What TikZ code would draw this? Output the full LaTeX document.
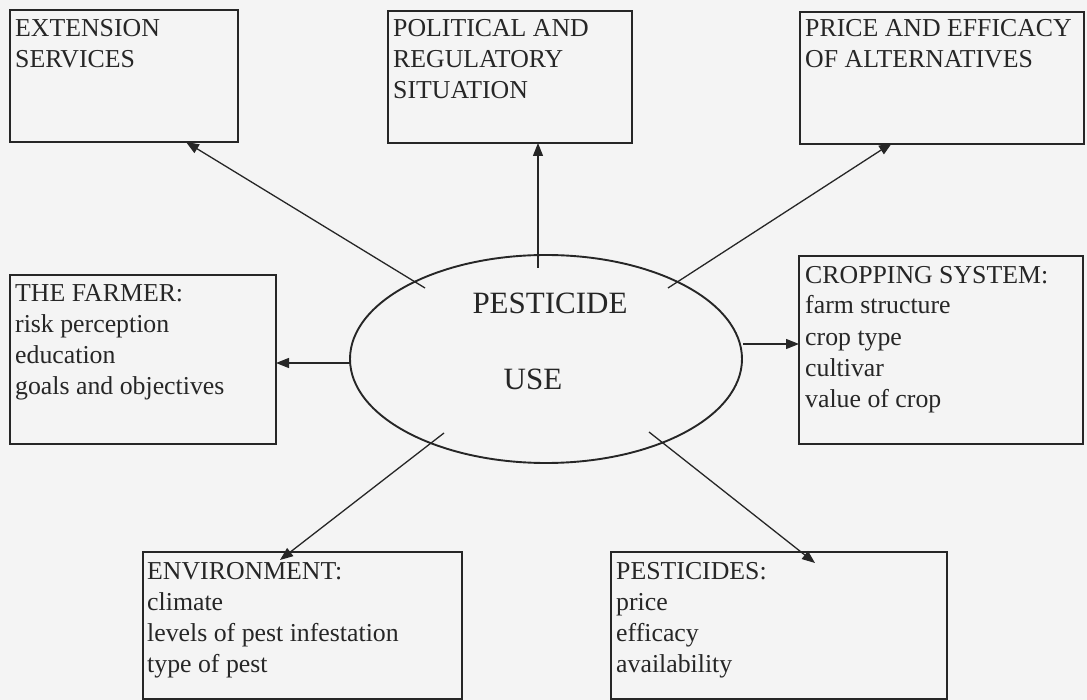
\documentclass[tikz,border=0pt]{standalone}
\usepackage{fontspec}
\setmainfont{Liberation Serif}
\usetikzlibrary{arrows.meta,shapes.geometric}
\definecolor{paper}{RGB}{244,244,244}
\definecolor{ink}{RGB}{38,38,38}
\begin{document}
\begin{tikzpicture}[x=1pt,y=-1pt,
  box/.style={draw=ink, line width=2.2pt, rectangle, inner sep=0pt},
  % multi-line texts are placed by the baseline of their last line
  txt/.style={anchor=base west, inner sep=0pt, align=left, text=ink,
              font=\fontsize{25.8}{31}\selectfont},
  big/.style={anchor=base, inner sep=0pt, text=ink,
              font=\fontsize{31}{37}\selectfont},
  link/.style={draw=ink, line width=1.3pt, -{Triangle[length=13pt,width=10pt]}}]
  \useasboundingbox (0,0) rectangle (1087,700);
  \fill[paper] (0,0) rectangle (1087,700);
  \clip (0,0) rectangle (1087,700);

  % boxes
  \node[box, minimum width=228, minimum height=132] (ext)  at (124,76)    {};
  \node[box, minimum width=244, minimum height=132] (pol)  at (510,77)    {};
  \node[box, minimum width=284, minimum height=132] (alt)  at (942,78)    {};
  \node[box, minimum width=266, minimum height=169] (farm) at (143,359.5) {};
  \node[box, minimum width=284, minimum height=188] (crop) at (941,350)   {};
  \node[box, minimum width=319, minimum height=147] (env)  at (302.5,625.5) {};
  \node[box, minimum width=336, minimum height=147] (pst)  at (779,625.5) {};

  % central ellipse
  \node[draw=ink, line width=1.9pt, ellipse, inner sep=0pt,
        minimum width=392, minimum height=208] (use) at (546,359) {};
  \node[big] (useA) at (550,314) {PESTICIDE};
  \node[big] (useB) at (533,390) {USE};

  % box texts
  \node[txt] (extT)  at (15,68)   {EXTENSION\\SERVICES};
  \node[txt] (polT)  at (393,99)  {POLITICAL AND\\REGULATORY\\SITUATION};
  \node[txt] (altT)  at (805,68)  {PRICE AND EFFICACY\\OF ALTERNATIVES};
  \node[txt] (farmT) at (15,395)  {THE FARMER:\\risk perception\\education\\goals and objectives};
  \node[txt] (cropT) at (805,407) {CROPPING SYSTEM:\\farm structure\\crop type\\cultivar\\value of crop};
  \node[txt] (envT)  at (147,672) {ENVIRONMENT:\\climate\\levels of pest infestation\\type of pest};
  \node[txt] (pstT)  at (616,672) {PESTICIDES:\\price\\efficacy\\availability};

  % connector end points
  \coordinate (s1) at (425,288); \coordinate (t1) at (186,142);
  \coordinate (s2) at (538,268); \coordinate (t2) at (538,143);
  \coordinate (s3) at (668,288); \coordinate (t3) at (892,143);
  \coordinate (s4) at (350,363); \coordinate (t4) at (276,363);
  \coordinate (s5) at (743,344); \coordinate (t5) at (799,344);
  \coordinate (s6) at (444,433); \coordinate (t6) at (280,560);
  \coordinate (s7) at (649,432); \coordinate (t7) at (815,563);

  \draw[link] (s1) -- (t1);
  \draw[link] (s2) -- (t2);
  \draw[link] (s3) -- (t3);
  \draw[link] (s4) -- (t4);
  \draw[link] (s5) -- (t5);
  \draw[link] (s6) -- (t6);
  \draw[link] (s7) -- (t7);
\end{tikzpicture}
\end{document}
